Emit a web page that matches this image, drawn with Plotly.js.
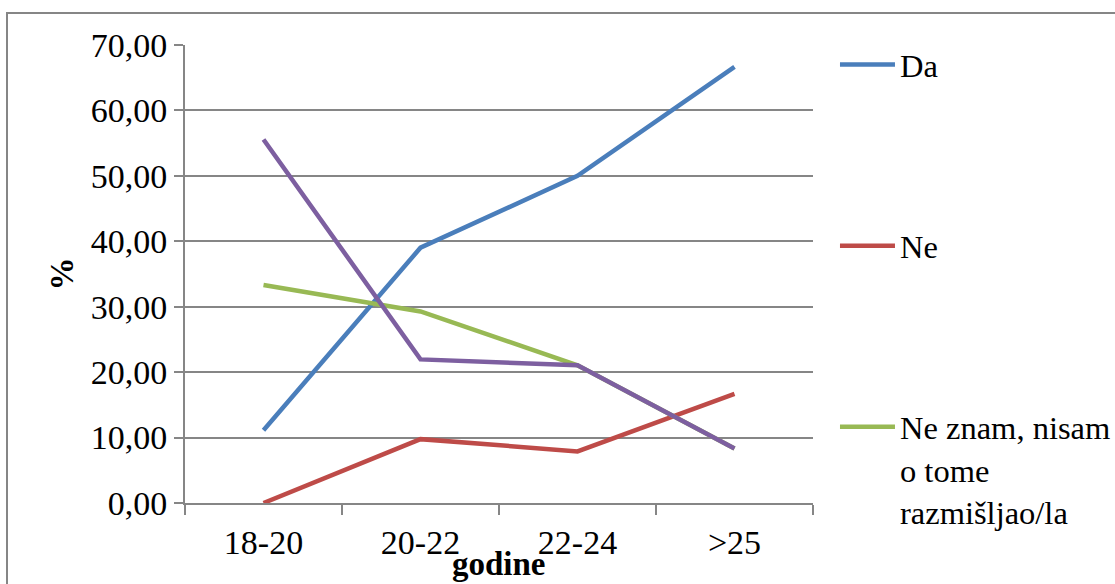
<!DOCTYPE html>
<html>
<head>
<meta charset="utf-8">
<script src="https://cdn.plot.ly/plotly-3.0.1.min.js"></script>
<style>html,body{margin:0;padding:0;background:#fff;}#chart{width:1115px;height:584px;}</style>
</head>
<body>
<div id="chart"></div>
<script>
// Data
const categories = ["18-20", "20-22", "22-24", ">25"];
const da = [11.11, 39.02, 50.00, 66.67];
const ne = [0.00, 9.76, 7.89, 16.67];
const neZnam = [33.33, 29.27, 21.05, 8.33];
const cetvrta = [55.56, 21.95, 21.05, 8.33];
const seriesNames = ["Da", "Ne", "Ne znam, nisam<br>o tome<br>razmišljao/la", "Serija 4"];
const yTickVals = [0, 10, 20, 30, 40, 50, 60, 70];
const yTickText = ["0,00", "10,00", "20,00", "30,00", "40,00", "50,00", "60,00", "70,00"];
const xTitle = "godine";
const yTitle = "%";

const colors = ["#4A7EBB", "#BE4B48", "#98B954", "#7D5FA0"];
const font = "Liberation Serif, Times New Roman, serif";
const legendIds = ["legend", "legend2", "legend3", "legend"];

function mk(y, i, show) {
  return {
    x: categories, y: y, type: "scatter", mode: "lines",
    name: seriesNames[i], legend: legendIds[i], showlegend: show,
    line: {color: colors[i], width: 4.5}
  };
}
const data = [mk(da, 0, true), mk(ne, 1, true), mk(neZnam, 2, true), mk(cetvrta, 3, false)];

function leg(yPaper) {
  return {
    x: 1.035, xanchor: "left", y: yPaper, yanchor: "top",
    font: {family: font, size: 32.5, color: "#000"},
    itemwidth: 55, valign: "top", bgcolor: "rgba(0,0,0,0)"
  };
}

const grid = "#868686";
const layout = {
  width: 1115, height: 584,
  margin: {l: 185, r: 302, t: 45, b: 81, autoexpand: false},
  paper_bgcolor: "#fff", plot_bgcolor: "#fff",
  font: {family: font, size: 33, color: "#000"},
  showlegend: true,
  legend: leg(1.0178),
  legend2: leg(0.622),
  legend3: leg(0.227),
  xaxis: {
    type: "category", range: [-0.5, 3.5], tickson: "boundaries",
    ticks: "outside", ticklen: 10, tickwidth: 2, tickcolor: grid,
    showline: true, linecolor: grid, linewidth: 2,
    showgrid: false, zeroline: false, ticklabelstandoff: 8,
    tickfont: {family: font, size: 34}
  },
  yaxis: {
    range: [0, 70], tickvals: yTickVals, ticktext: yTickText,
    ticks: "outside", ticklen: 9, tickwidth: 2, tickcolor: grid,
    showline: true, linecolor: grid, linewidth: 2,
    showgrid: true, gridcolor: grid, gridwidth: 2, zeroline: false,
    tickfont: {family: font, size: 34},
    title: {text: "<b>" + yTitle + "</b>", font: {family: font, size: 33}, standoff: 7}
  },
  annotations: [{
    // x-axis title sits lower than the bottom margin allows for an axis title
    text: "<b>" + xTitle + "</b>", xref: "paper", yref: "paper",
    x: 0.5, y: (503 - 584) / 458, xanchor: "center", yanchor: "bottom",
    showarrow: false, font: {family: font, size: 33, color: "#000"}
  }],
  shapes: [{
    type: "rect", xref: "paper", yref: "paper",
    x0: (7 - 185) / 628, x1: (1125 - 185) / 628,
    y0: (503 - 600) / 458, y1: (503 - 13) / 458,
    line: {color: grid, width: 2}, fillcolor: "rgba(0,0,0,0)", layer: "below"
  }]
};

// tighten the line spacing of the multi-line legend entry (Excel uses ~1.15em)
function tighten() {
  document.querySelectorAll("text.legendtext").forEach(function (txt) {
    const lines = txt.querySelectorAll("tspan.line");
    if (lines.length < 2) return;
    lines.forEach(function (t, i) {
      if (!t.hasAttribute("data-orig-dy")) t.setAttribute("data-orig-dy", t.getAttribute("dy") || (i * 1.3) + "em");
      const orig = t.getAttribute("data-orig-dy");
      const v = parseFloat(orig);
      if (isNaN(v)) return;
      const unit = orig.replace(/^[-0-9.]+/, "") || "px";
      t.setAttribute("dy", (v * 0.885).toFixed(3) + unit);
    });
  });
}
const gdEl = document.getElementById("chart");
const p = Plotly.newPlot(gdEl, data, layout, {displayModeBar: false, staticPlot: true});
tighten();
p.then(function (gd) {
  tighten();
  gd.on("plotly_afterplot", tighten);
  setTimeout(tighten, 30);
});
</script>
</body>
</html>
